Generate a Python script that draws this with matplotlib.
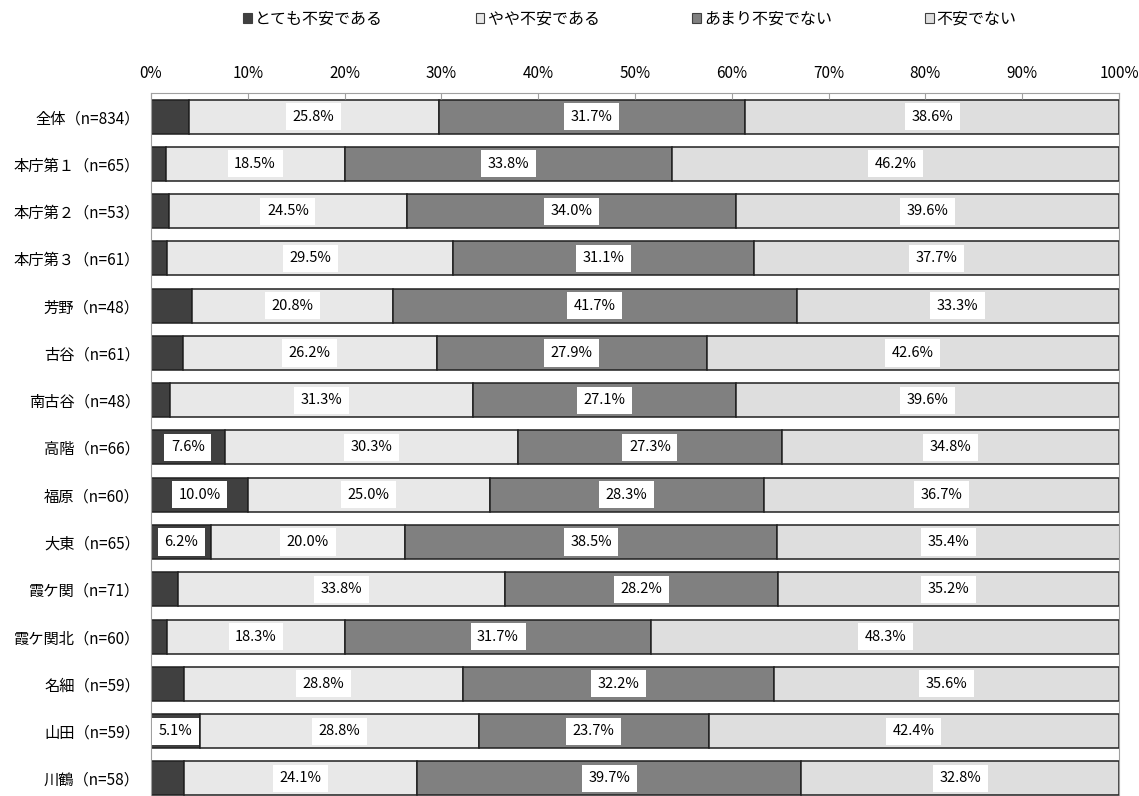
import numpy as np
import matplotlib
matplotlib.use("Agg")
import matplotlib.pyplot as plt
from matplotlib.patches import Patch

plt.rcParams['font.family'] = ['Noto Sans CJK JP', 'DejaVu Sans']

categories = ["全体（n=834）", "本庁第１（n=65）", "本庁第２（n=53）", "本庁第３（n=61）",
              "芳野（n=48）", "古谷（n=61）", "南古谷（n=48）", "高階（n=66）",
              "福原（n=60）", "大東（n=65）", "霞ケ関（n=71）", "霞ケ関北（n=60）",
              "名細（n=59）", "山田（n=59）", "川鶴（n=58）"]
series_names = ["とても不安である", "やや不安である", "あまり不安でない", "不安でない"]

very_anxious = [3.9, 1.5, 1.9, 1.7, 4.2, 3.3, 2.0, 7.6, 10.0, 6.2, 2.8, 1.7, 3.4, 5.1, 3.4]
somewhat_anxious = [25.8, 18.5, 24.5, 29.5, 20.8, 26.2, 31.3, 30.3, 25.0, 20.0, 33.8, 18.3, 28.8, 28.8, 24.1]
not_very_anxious = [31.7, 33.8, 34.0, 31.1, 41.7, 27.9, 27.1, 27.3, 28.3, 38.5, 28.2, 31.7, 32.2, 23.7, 39.7]
not_anxious = [38.6, 46.2, 39.6, 37.7, 33.3, 42.6, 39.6, 34.8, 36.7, 35.4, 35.2, 48.3, 35.6, 42.4, 32.8]

colors = ["#404040", "#e8e8e8", "#808080", "#dedede"]

fig = plt.figure(figsize=(11.39, 7.96), dpi=100)
ax = fig.add_axes([0.1326, -0.0075, 0.8498, 0.8907])

y = np.arange(len(categories))
left = np.zeros(len(categories))
for name, vals, c in zip(series_names,
                         [very_anxious, somewhat_anxious, not_very_anxious, not_anxious],
                         colors):
    vals = np.array(vals)
    ax.barh(y, vals, left=left, height=0.72, color=c, edgecolor="#202020",
            linewidth=1.1, label=name)
    for yi, l, v in zip(y, left, vals):
        if v >= 5:
            ax.text(l + v / 2, yi, f"{v:.1f}%", ha="center", va="center",
                    fontsize=10.5, color="black",
                    bbox=dict(facecolor="white", edgecolor="none",
                              boxstyle="square,pad=0.45"))
    left += vals

ax.set_xlim(0, 100)
ax.set_ylim(len(categories) - 0.5, -0.5)
ax.set_yticks(y)
ax.set_yticklabels(categories, fontsize=11)
ax.tick_params(axis="y", length=0, pad=8)
ax.xaxis.tick_top()
ax.set_xticks(np.arange(0, 101, 10))
ax.set_xticklabels([f"{v}%" for v in range(0, 101, 10)], fontsize=11)
ax.tick_params(axis="x", direction="in", length=4, color="#a0a0a0", pad=8)
for s in ax.spines.values():
    s.set_color("#a0a0a0")

handles = [Patch(facecolor=c, edgecolor="#404040", linewidth=0.8) for c in colors]
fig.legend(handles, series_names, loc="upper center", bbox_to_anchor=(0.553, 1.005),
           ncol=4, frameon=False, fontsize=11.5, handlelength=0.55, handleheight=0.55,
           handletextpad=0.2, columnspacing=5.8)

fig.savefig("out.png", dpi=100)
